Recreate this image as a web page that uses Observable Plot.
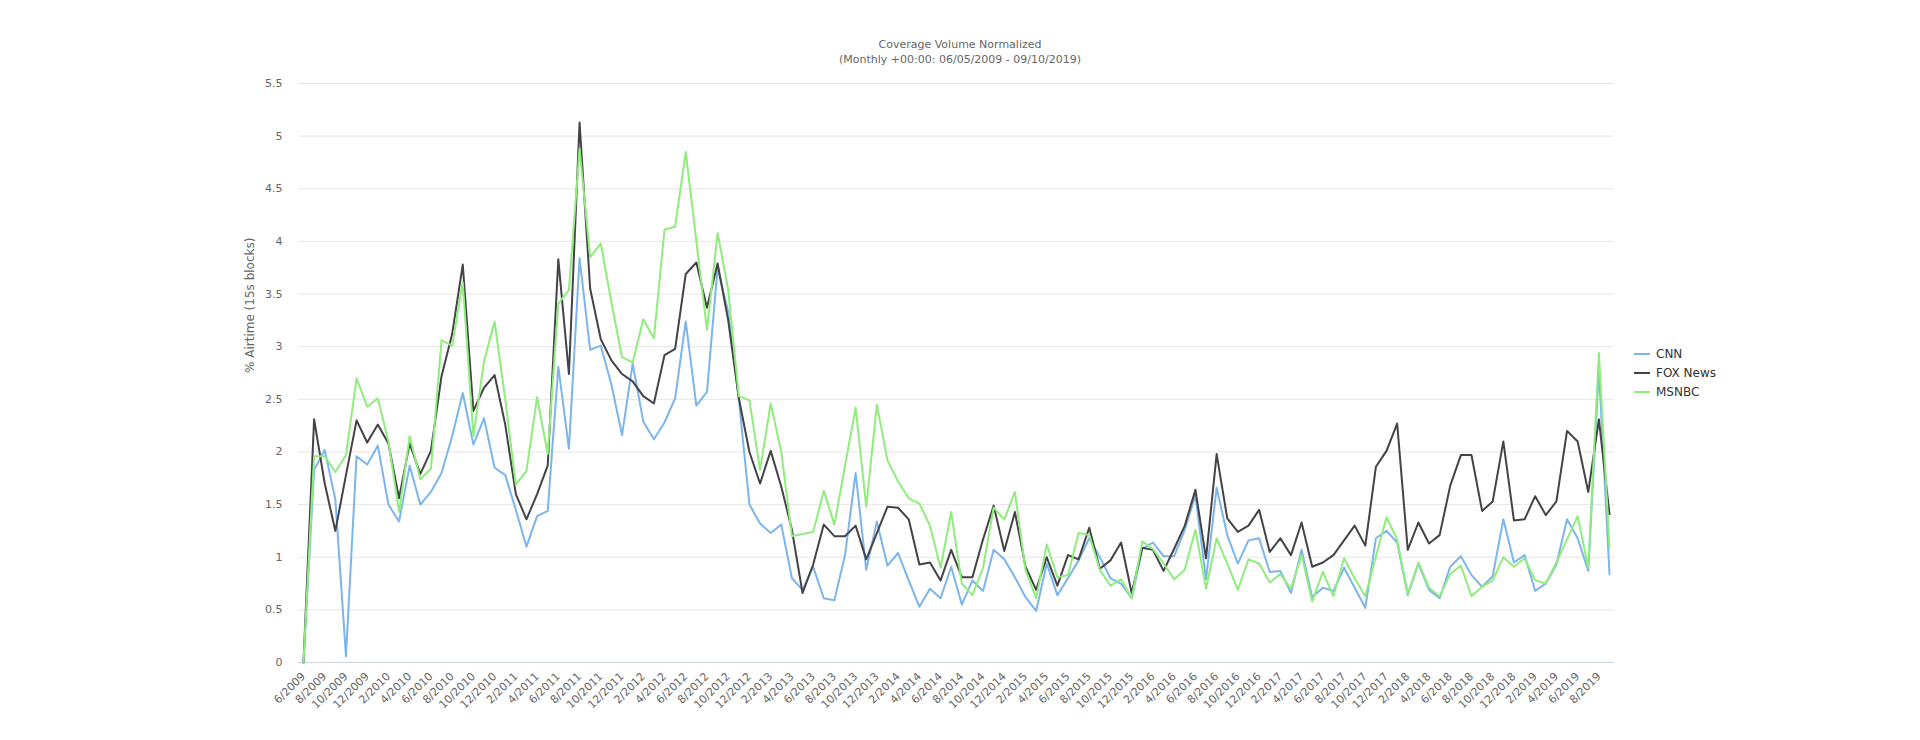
<!DOCTYPE html>
<html>
<head>
<meta charset="utf-8">
<script src="https://cdn.jsdelivr.net/npm/d3@7"></script>
<script src="https://cdn.jsdelivr.net/npm/@observablehq/plot@0.6"></script>
<style>
  html, body { margin: 0; padding: 0; background: #ffffff; }
  #wrap { position: relative; width: 1920px; height: 740px; font-family: "DejaVu Sans", sans-serif; }
  #chart { position: absolute; left: 0; top: 0; }
  .title { position: absolute; left: 0; width: 1920px; text-align: center; color: #666666; font-size: 11px; white-space: nowrap; }
  #legend { position: absolute; left: 1634px; top: 345px; font-size: 12px; color: #333333; }
  .item { position: relative; height: 19px; line-height: 19px; white-space: nowrap; }
  .sw { display: inline-block; width: 16px; height: 2px; vertical-align: middle; margin-right: 6px; position: relative; top: -1px; }
</style>
</head>
<body>
<div id="wrap">
  <div id="chart"></div>
  <div class="title" style="top:38px">Coverage Volume Normalized</div>
  <div class="title" style="top:53px">(Monthly +00:00: 06/05/2009 - 09/10/2019)</div>
  <div id="legend"></div>
</div>
<script>
// Series names and colours
const seriesNames = ["CNN", "FOX News", "MSNBC"];
const seriesColors = ["#7cb5ec", "#434348", "#90ed7d"];

// Months 6/2009 .. 9/2019 (124 monthly points)
const startYear = 2009, startMonth = 6, monthCount = 124;
const monthLabels = d3.range(monthCount).map(i => {
  const m = (startMonth - 1 + i) % 12 + 1;
  const y = startYear + Math.floor((startMonth - 1 + i) / 12);
  return `${m}/${y}`;
});
const xTickIndex = d3.range(0, monthCount, 2);

// % Airtime (15s blocks)
const cnn = [
  0.00, 1.83, 2.02, 1.55, 0.06, 1.96, 1.88, 2.06, 1.50, 1.34,
  1.87, 1.50, 1.62, 1.80, 2.15, 2.56, 2.07, 2.32, 1.85, 1.78,
  1.45, 1.10, 1.39, 1.44, 2.81, 2.03, 3.84, 2.97, 3.01, 2.64,
  2.16, 2.84, 2.29, 2.12, 2.28, 2.51, 3.24, 2.44, 2.57, 3.75,
  3.33, 2.50, 1.50, 1.32, 1.23, 1.31, 0.80, 0.69, 0.91, 0.61,
  0.59, 1.02, 1.80, 0.88, 1.34, 0.92, 1.04, 0.78, 0.53, 0.70,
  0.61, 0.91, 0.55, 0.78, 0.68, 1.07, 0.98, 0.81, 0.62, 0.49,
  0.94, 0.64, 0.80, 0.97, 1.18, 1.00, 0.80, 0.75, 0.61, 1.08,
  1.14, 1.01, 1.01, 1.26, 1.59, 0.79, 1.66, 1.21, 0.94, 1.16,
  1.18, 0.86, 0.87, 0.66, 1.07, 0.62, 0.71, 0.68, 0.90, 0.71,
  0.52, 1.18, 1.25, 1.14, 0.64, 0.94, 0.69, 0.61, 0.91, 1.01,
  0.83, 0.72, 0.82, 1.36, 0.95, 1.02, 0.68, 0.75, 0.93, 1.36,
  1.18, 0.87, 2.78, 0.84
];
const fox = [
  0.00, 2.31, 1.70, 1.25, 1.78, 2.30, 2.09, 2.26, 2.08, 1.56,
  2.08, 1.79, 2.01, 2.72, 3.12, 3.78, 2.39, 2.61, 2.73, 2.26,
  1.60, 1.36, 1.60, 1.87, 3.83, 2.74, 5.13, 3.55, 3.07, 2.87,
  2.74, 2.67, 2.53, 2.46, 2.92, 2.98, 3.69, 3.80, 3.37, 3.79,
  3.25, 2.51, 2.00, 1.70, 2.01, 1.67, 1.26, 0.66, 0.93, 1.31,
  1.20, 1.20, 1.30, 0.98, 1.23, 1.48, 1.47, 1.36, 0.93, 0.95,
  0.78, 1.07, 0.81, 0.81, 1.17, 1.49, 1.06, 1.43, 0.91, 0.69,
  1.00, 0.73, 1.02, 0.98, 1.28, 0.89, 0.97, 1.14, 0.66, 1.09,
  1.07, 0.87, 1.08, 1.30, 1.64, 0.99, 1.98, 1.37, 1.24, 1.30,
  1.45, 1.05, 1.18, 1.02, 1.33, 0.91, 0.95, 1.02, 1.16, 1.30,
  1.11, 1.86, 2.01, 2.27, 1.07, 1.33, 1.13, 1.21, 1.68, 1.97,
  1.97, 1.44, 1.53, 2.10, 1.35, 1.36, 1.58, 1.40, 1.53, 2.20,
  2.10, 1.62, 2.31, 1.41
];
const msnbc = [
  0.00, 1.96, 1.96, 1.81, 1.97, 2.70, 2.43, 2.51, 2.10, 1.43,
  2.15, 1.74, 1.84, 3.06, 3.01, 3.61, 2.15, 2.86, 3.24, 2.50,
  1.69, 1.82, 2.52, 1.98, 3.41, 3.54, 4.88, 3.85, 3.98, 3.42,
  2.90, 2.85, 3.26, 3.08, 4.11, 4.14, 4.85, 4.00, 3.16, 4.08,
  3.54, 2.53, 2.49, 1.83, 2.46, 2.00, 1.20, 1.22, 1.24, 1.63,
  1.31, 1.87, 2.42, 1.48, 2.45, 1.92, 1.72, 1.56, 1.51, 1.30,
  0.90, 1.43, 0.75, 0.64, 0.90, 1.47, 1.36, 1.62, 0.88, 0.61,
  1.12, 0.81, 0.83, 1.23, 1.21, 0.88, 0.73, 0.79, 0.61, 1.15,
  1.08, 0.94, 0.79, 0.88, 1.26, 0.70, 1.18, 0.94, 0.69, 0.98,
  0.94, 0.76, 0.84, 0.70, 1.02, 0.58, 0.86, 0.63, 0.99, 0.80,
  0.63, 1.01, 1.38, 1.17, 0.65, 0.95, 0.71, 0.63, 0.84, 0.92,
  0.63, 0.72, 0.78, 1.00, 0.91, 0.99, 0.78, 0.75, 0.95, 1.17,
  1.39, 0.90, 2.94, 1.09
];
const yTicks = [0, 0.5, 1, 1.5, 2, 2.5, 3, 3.5, 4, 4.5, 5, 5.5];
const yLabel = "% Airtime (15s blocks)";

const seriesValues = [cnn, fox, msnbc];
const rows = seriesNames.flatMap((name, s) =>
  seriesValues[s].map((v, i) => ({series: name, i, v}))
);

const font = "DejaVu Sans, sans-serif";
const chart = Plot.plot({
  width: 1920,
  height: 740,
  marginTop: 83,
  marginBottom: 78,
  marginLeft: 298,
  marginRight: 306,
  style: {fontFamily: font, fontSize: "11px", color: "#666666", background: "#ffffff"},
  x: {type: "linear", domain: [-0.47, monthCount - 1 + 0.47]},
  y: {domain: [0, 5.5]},
  color: {domain: seriesNames, range: seriesColors},
  marks: [
    Plot.ruleY(yTicks.filter(d => d > 0), {stroke: "#e6e6e6", strokeWidth: 1}),
    Plot.ruleY([0], {stroke: "#ccd6eb", strokeWidth: 1}),
    Plot.axisY({ticks: yTicks, tickSize: 0, tickPadding: 16, tickFormat: d => String(d), label: null, fill: "#666666"}),
    Plot.axisX({ticks: xTickIndex, tickFormat: i => monthLabels[i], tickRotate: -45, tickSize: 0, tickPadding: 12, label: null, fill: "#666666"}),
    Plot.text([yLabel], {frameAnchor: "left", dx: -48.5, rotate: -90, fill: "#666666", fontSize: 12}),
    Plot.lineY(rows, {x: "i", y: "v", z: "series", stroke: "series", strokeWidth: 2, strokeLinejoin: "round", strokeLinecap: "round"})
  ]
});
document.getElementById("chart").appendChild(chart);

const legend = document.getElementById("legend");
seriesNames.forEach((name, s) => {
  const item = document.createElement("div");
  item.className = "item";
  const sw = document.createElement("span");
  sw.className = "sw";
  sw.style.background = seriesColors[s];
  item.appendChild(sw);
  item.appendChild(document.createTextNode(name));
  legend.appendChild(item);
});
</script>
</body>
</html>
